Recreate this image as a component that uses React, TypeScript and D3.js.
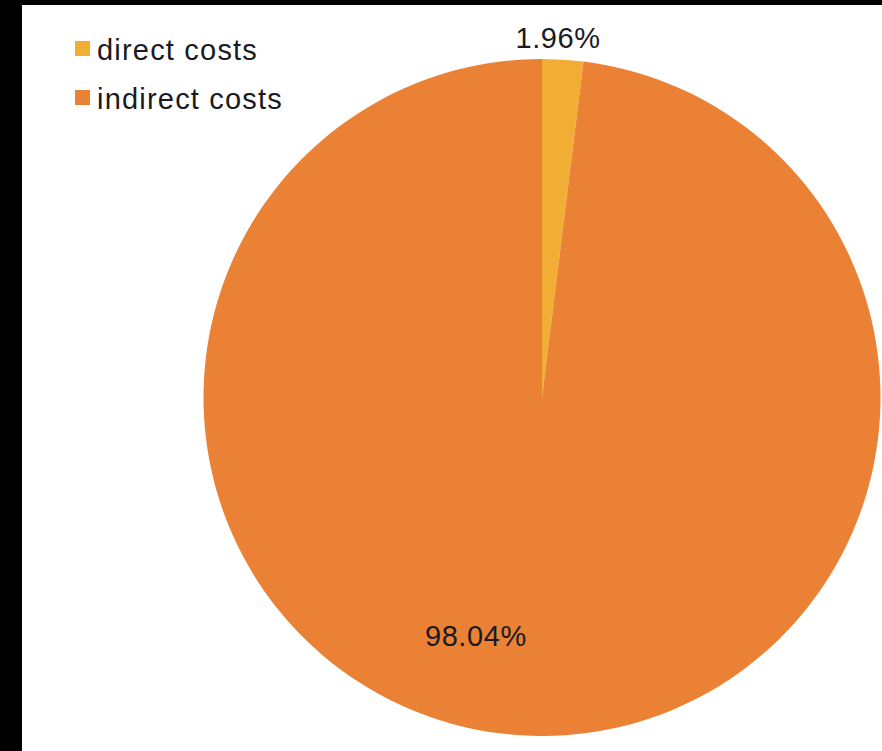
import React from "react";
import * as d3 from "d3";

const categories = ["direct costs", "indirect costs"];
const values = [1.96, 98.04];
const labels = ["1.96%", "98.04%"];
const colors = ["#F2AD35", "#EB8135"];

export default function App() {
  const W = 882, H = 751;
  const cx = 542, cy = 397.5, r = 338.5;
  const pie = d3.pie<number>().sort(null).value((d) => d);
  const arcs = pie(values);
  const arcGen = d3.arc<d3.PieArcDatum<number>>().innerRadius(0).outerRadius(r);
  const font = "'Liberation Sans', Arial, Helvetica, sans-serif";
  // label positions: outside for the small slice, inside for the large one
  const labelPos = arcs.map((a, i) => {
    const mid = (a.startAngle + a.endAngle) / 2;
    if (i === 0) {
      const rr = r + 20;
      return [Math.sin(mid) * rr - 6, -Math.cos(mid) * rr + 8];
    }
    const rr = r * 0.747;
    const ang = mid + 0.203;
    return [Math.sin(ang) * rr, -Math.cos(ang) * rr + 4];
  });
  return (
    <svg width={W} height={H} style={{ position: "absolute", left: 0, top: 0, display: "block" }}>
      <rect x={0} y={0} width={W} height={H} fill="#000" />
      <rect x={22} y={5} width={W - 22} height={H - 5} fill="#fff" />
      <g transform={`translate(${cx},${cy})`}>
        {arcs.map((a, i) => (
          <path key={i} d={arcGen(a) || ""} fill={colors[i]} />
        ))}
        {arcs.map((a, i) => (
          <text
            key={"l" + i}
            x={labelPos[i][0]}
            y={labelPos[i][1]}
            textAnchor="middle"
            fontFamily={font}
            fontSize={29}
            letterSpacing={0.6}
            fill="#1a1a22"
          >
            {labels[i]}
          </text>
        ))}
      </g>
      <g>
        {categories.map((c, i) => (
          <g key={c} transform={`translate(75,${41 + i * 49})`}>
            <rect x={0} y={0} width={15} height={15} fill={colors[i]} />
            <text x={22} y={19} fontFamily={font} fontSize={29} fill="#1a1a22" letterSpacing={1.2}>
              {c}
            </text>
          </g>
        ))}
      </g>
    </svg>
  );
}
